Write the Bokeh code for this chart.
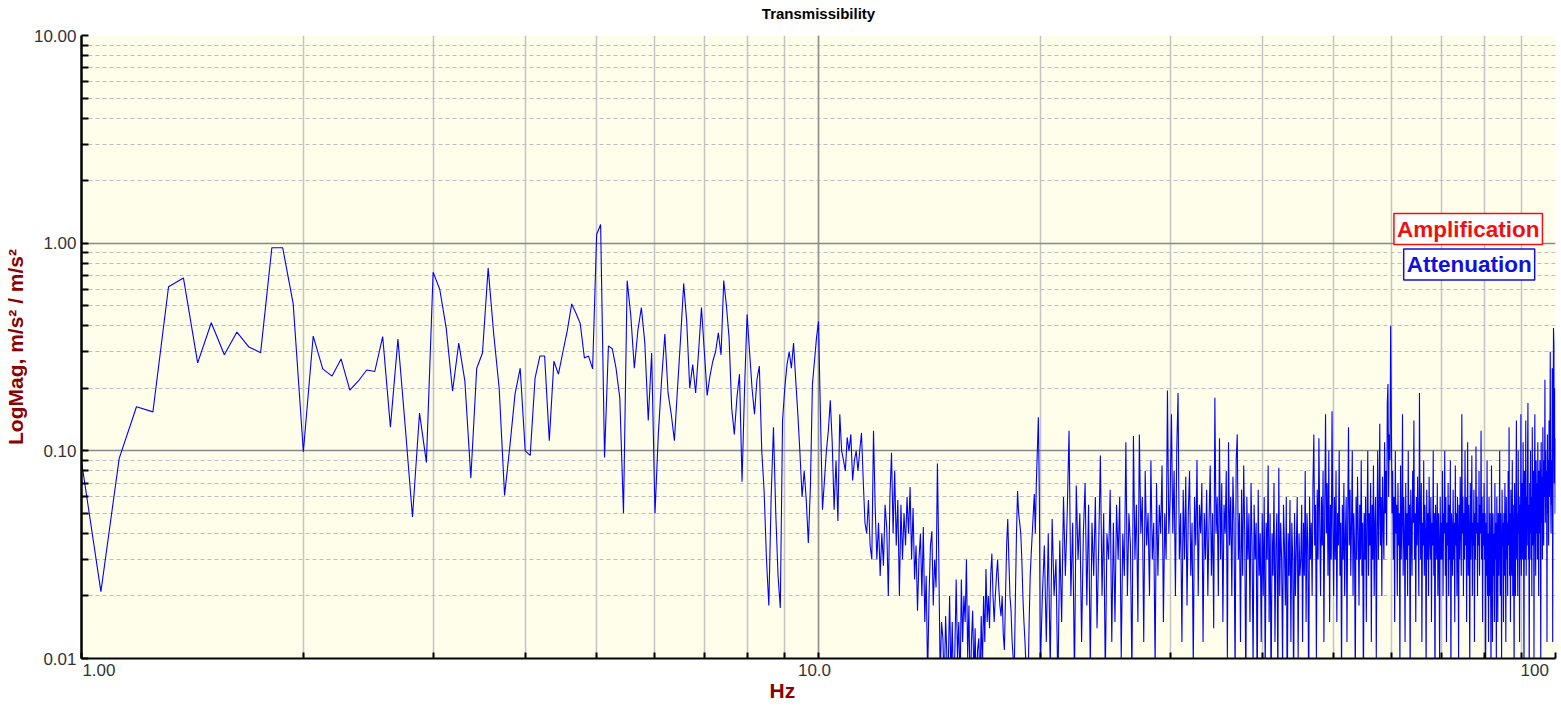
import numpy as np
from bokeh.plotting import figure
from bokeh.models import (FixedTicker, CustomJSTickFormatter, Label, Range1d,
                          ColumnDataSource, Span, Title)
from bokeh.embed import file_html
from bokeh.resources import INLINE

# ---------------- data ----------------
# 1.0 .. 4.9375 Hz, step 0.0625 Hz
mag_1_5hz = [
    0.089, 0.021, 0.092, 0.163, 0.154, 0.617, 0.68, 0.265, 0.414, 0.29,
    0.373, 0.316, 0.297, 0.95, 0.95, 0.51, 0.099, 0.357, 0.248, 0.229,
    0.277, 0.196, 0.217, 0.245, 0.241, 0.355, 0.13, 0.345, 0.13, 0.048,
    0.152, 0.088, 0.725, 0.6, 0.39, 0.194, 0.33, 0.217, 0.074, 0.25,
    0.296, 0.76, 0.365, 0.2, 0.061, 0.105, 0.188, 0.25, 0.1, 0.095,
    0.224, 0.286, 0.286, 0.112, 0.27, 0.234, 0.3, 0.38, 0.51, 0.46,
    0.41, 0.28, 0.286, 0.248,
]
# 5.0 .. 10.0 Hz, step 0.0625 Hz
mag_5_10hz = [
    1.1, 1.23, 0.093, 0.32, 0.31, 0.25, 0.18, 0.05, 0.66, 0.45,
    0.25, 0.38, 0.49, 0.33, 0.14, 0.296, 0.05, 0.12, 0.22, 0.365,
    0.19, 0.15, 0.112, 0.2, 0.35, 0.64, 0.42, 0.2, 0.26, 0.19,
    0.3, 0.49, 0.3, 0.185, 0.23, 0.27, 0.3, 0.37, 0.29, 0.66,
    0.5, 0.35, 0.16, 0.12, 0.18, 0.234, 0.071, 0.2, 0.455, 0.3,
    0.2, 0.15, 0.22, 0.256, 0.1, 0.064, 0.03, 0.018, 0.06, 0.13,
    0.05, 0.025, 0.0175, 0.14, 0.2, 0.26, 0.3, 0.25, 0.33, 0.22,
    0.15, 0.097, 0.06, 0.08, 0.058, 0.036, 0.067, 0.21, 0.27, 0.35,
    0.42,
]
# 10.0625 .. 20.0 Hz, step 0.0625 Hz
mag_10_20hz = [
    0.145, 0.052, 0.072, 0.1, 0.125, 0.175, 0.11, 0.052, 0.09, 0.046,
    0.15, 0.1, 0.09, 0.08, 0.116, 0.1, 0.12, 0.072, 0.09, 0.1,
    0.08, 0.1, 0.122, 0.072, 0.045, 0.04, 0.058, 0.035, 0.03, 0.125,
    0.053, 0.03, 0.045, 0.025, 0.04, 0.028, 0.055, 0.043, 0.02, 0.06,
    0.098, 0.04, 0.08, 0.035, 0.058, 0.02, 0.055, 0.03, 0.05, 0.035,
    0.06, 0.04, 0.067, 0.03, 0.053, 0.024, 0.035, 0.017, 0.03, 0.04,
    0.02, 0.043, 0.015, 0.025, 0.008, 0.02, 0.035, 0.041, 0.018, 0.03,
    0.022, 0.087, 0.03, 0.008, 0.015, 0.0125, 0.007, 0.016, 0.01, 0.009,
    0.02, 0.008, 0.015, 0.006, 0.011, 0.024, 0.01, 0.015, 0.007, 0.024,
    0.012, 0.02, 0.015, 0.03, 0.01, 0.018, 0.006, 0.012, 0.017, 0.008,
    0.014, 0.006, 0.011, 0.0125, 0.007, 0.016, 0.009, 0.02, 0.012, 0.027,
    0.015, 0.02, 0.014, 0.025, 0.032, 0.02, 0.015, 0.02, 0.025, 0.03,
    0.022, 0.018, 0.016, 0.02, 0.013, 0.011, 0.02, 0.035, 0.047, 0.03,
    0.02, 0.017, 0.012, 0.01, 0.009, 0.02, 0.04, 0.064, 0.05, 0.045,
    0.04, 0.03, 0.02, 0.015, 0.012, 0.009, 0.008, 0.008, 0.015, 0.025,
    0.032, 0.04, 0.05, 0.062, 0.04, 0.07, 0.1, 0.145, 0.06, 0.009,
]
# 20.125 .. 40.0 Hz, step 0.125 Hz
mag_20_40hz = [
    0.02, 0.035, 0.012, 0.04, 0.009, 0.047, 0.02, 0.03, 0.007, 0.037,
    0.015, 0.06, 0.025, 0.05, 0.125, 0.02, 0.045, 0.008, 0.068, 0.03,
    0.05, 0.012, 0.04, 0.07, 0.018, 0.055, 0.009, 0.045, 0.025, 0.06,
    0.014, 0.035, 0.095, 0.02, 0.05, 0.008, 0.04, 0.03, 0.065, 0.012,
    0.045, 0.015, 0.055, 0.03, 0.06, 0.01, 0.04, 0.025, 0.11, 0.02,
    0.05, 0.035, 0.008, 0.118, 0.03, 0.055, 0.015, 0.12, 0.04, 0.06,
    0.012, 0.08, 0.035, 0.05, 0.02, 0.09, 0.03, 0.045, 0.009, 0.07,
    0.025, 0.055, 0.04, 0.085, 0.015, 0.05, 0.03, 0.195, 0.04, 0.06,
    0.15, 0.04, 0.08, 0.02, 0.1, 0.19, 0.03, 0.05, 0.012, 0.065,
    0.03, 0.075, 0.018, 0.05, 0.08, 0.025, 0.045, 0.009, 0.06, 0.035,
    0.09, 0.02, 0.055, 0.04, 0.07, 0.012, 0.05, 0.03, 0.065, 0.02,
    0.045, 0.085, 0.025, 0.05, 0.014, 0.18, 0.04, 0.06, 0.02, 0.115,
    0.03, 0.07, 0.015, 0.055, 0.04, 0.08, 0.01, 0.11, 0.035, 0.06,
    0.02, 0.075, 0.045, 0.008, 0.09, 0.12, 0.03, 0.05, 0.012, 0.065,
    0.025, 0.085, 0.04, 0.007, 0.06, 0.03, 0.05, 0.015, 0.07, 0.035,
    0.009, 0.055, 0.03, 0.045, 0.006, 0.065, 0.025, 0.04, 0.012, 0.05,
]
# 40.125 .. 60.0 Hz, step 0.125 Hz
mag_40_60hz = [
    0.02, 0.06, 0.008, 0.045, 0.03, 0.085, 0.015, 0.05, 0.006, 0.04,
    0.025, 0.07, 0.012, 0.035, 0.05, 0.007, 0.083, 0.02, 0.045, 0.03,
    0.009, 0.055, 0.035, 0.018, 0.06, 0.005, 0.04, 0.025, 0.058, 0.012,
    0.045, 0.03, 0.007, 0.05, 0.02, 0.035, 0.06, 0.01, 0.04, 0.025,
    0.03, 0.055, 0.012, 0.045, 0.025, 0.08, 0.015, 0.05, 0.035, 0.006,
    0.06, 0.03, 0.045, 0.02, 0.07, 0.12, 0.035, 0.055, 0.01, 0.065,
    0.03, 0.115, 0.045, 0.02, 0.06, 0.035, 0.08, 0.012, 0.05, 0.15,
    0.04, 0.07, 0.025, 0.1, 0.015, 0.055, 0.03, 0.155, 0.045, 0.02,
    0.06, 0.03, 0.08, 0.015, 0.05, 0.035, 0.1, 0.025, 0.045, 0.008,
    0.055, 0.03, 0.07, 0.02, 0.04, 0.06, 0.012, 0.05, 0.13, 0.035,
    0.065, 0.025, 0.045, 0.1, 0.02, 0.05, 0.035, 0.007, 0.06, 0.03,
    0.075, 0.04, 0.018, 0.055, 0.03, 0.09, 0.025, 0.045, 0.006, 0.05,
    0.03, 0.06, 0.015, 0.045, 0.1, 0.025, 0.05, 0.035, 0.07, 0.012,
    0.055, 0.03, 0.085, 0.02, 0.045, 0.06, 0.01, 0.04, 0.1, 0.03,
    0.05, 0.135, 0.035, 0.06, 0.02, 0.075, 0.045, 0.03, 0.11, 0.05,
    0.08, 0.035, 0.17, 0.21, 0.06, 0.12, 0.09, 0.4, 0.15, 0.05,
]
# 60.125 .. 80.0 Hz, step 0.125 Hz
mag_60_80hz = [
    0.08, 0.03, 0.06, 0.015, 0.1, 0.04, 0.055, 0.02, 0.07, 0.035,
    0.05, 0.009, 0.085, 0.03, 0.045, 0.15, 0.025, 0.06, 0.04, 0.012,
    0.07, 0.03, 0.05, 0.02, 0.1, 0.035, 0.055, 0.007, 0.065, 0.04,
    0.025, 0.08, 0.045, 0.14, 0.03, 0.05, 0.015, 0.06, 0.035, 0.075,
    0.04, 0.02, 0.19, 0.05, 0.03, 0.07, 0.012, 0.045, 0.035, 0.09,
    0.025, 0.055, 0.04, 0.008, 0.065, 0.03, 0.05, 0.02, 0.075, 0.04,
    0.03, 0.06, 0.015, 0.045, 0.035, 0.1, 0.025, 0.05, 0.006, 0.055,
    0.04, 0.03, 0.07, 0.02, 0.05, 0.035, 0.009, 0.06, 0.03, 0.045,
    0.03, 0.08, 0.02, 0.05, 0.04, 0.1, 0.025, 0.06, 0.012, 0.045,
    0.035, 0.07, 0.02, 0.055, 0.03, 0.09, 0.007, 0.05, 0.04, 0.025,
    0.065, 0.03, 0.045, 0.015, 0.085, 0.035, 0.05, 0.02, 0.06, 0.04,
    0.01, 0.055, 0.03, 0.075, 0.045, 0.025, 0.15, 0.04, 0.06, 0.02,
    0.05, 0.03, 0.1, 0.035, 0.06, 0.015, 0.045, 0.11, 0.025, 0.055,
    0.04, 0.008, 0.07, 0.03, 0.05, 0.095, 0.02, 0.045, 0.035, 0.065,
    0.012, 0.05, 0.03, 0.105, 0.04, 0.06, 0.02, 0.045, 0.035, 0.08,
    0.025, 0.055, 0.04, 0.125, 0.03, 0.06, 0.015, 0.05, 0.035, 0.07,
]
# 80.125 .. 100.0 Hz, step 0.125 Hz
mag_80_100hz = [
    0.03, 0.05, 0.006, 0.045, 0.025, 0.09, 0.02, 0.04, 0.012, 0.06,
    0.02, 0.05, 0.03, 0.008, 0.085, 0.035, 0.012, 0.05, 0.025, 0.04,
    0.015, 0.07, 0.03, 0.045, 0.009, 0.06, 0.035, 0.015, 0.05, 0.025,
    0.04, 0.1, 0.02, 0.05, 0.03, 0.01, 0.065, 0.035, 0.045, 0.015,
    0.05, 0.025, 0.07, 0.035, 0.012, 0.06, 0.03, 0.045, 0.02, 0.08,
    0.035, 0.13, 0.025, 0.05, 0.015, 0.065, 0.04, 0.025, 0.09, 0.02,
    0.055, 0.035, 0.008, 0.07, 0.04, 0.02, 0.06, 0.14, 0.03, 0.05,
    0.02, 0.1, 0.04, 0.06, 0.012, 0.055, 0.03, 0.15, 0.025, 0.05,
    0.07, 0.03, 0.11, 0.04, 0.008, 0.08, 0.045, 0.03, 0.14, 0.025,
    0.06, 0.035, 0.09, 0.17, 0.03, 0.055, 0.007, 0.07, 0.04, 0.1,
    0.03, 0.06, 0.02, 0.13, 0.045, 0.035, 0.08, 0.01, 0.06, 0.15,
    0.045, 0.025, 0.09, 0.04, 0.07, 0.03, 0.11, 0.05, 0.02, 0.08,
    0.04, 0.09, 0.055, 0.008, 0.11, 0.045, 0.075, 0.03, 0.13, 0.055,
    0.035, 0.09, 0.06, 0.22, 0.045, 0.1, 0.06, 0.08, 0.012, 0.12,
    0.05, 0.09, 0.035, 0.14, 0.06, 0.1, 0.3, 0.06, 0.04, 0.09,
    0.055, 0.25, 0.012, 0.1, 0.39, 0.33, 0.07, 0.2, 0.05, 0.115,
]

x_tick_labels = ["1.00", "10.0", "100"]
y_tick_values = [0.01, 0.1, 1, 10]

title_text = "Transmissibility"
x_label = "Hz"
y_label = "LogMag, m/s\u00b2 / m/s\u00b2"

# ---------------- build arrays ----------------
lo = mag_1_5hz + mag_5_10hz + mag_10_20hz
hi = mag_20_40hz + mag_40_60hz + mag_60_80hz + mag_80_100hz
f_lo = 1.0 + 0.0625 * np.arange(len(lo))
f_hi = 20.0 + 0.125 * np.arange(1, len(hi) + 1)
freq = np.concatenate([f_lo, f_hi])
mag = np.array(lo + hi)
src = ColumnDataSource(dict(f=freq, m=mag))

FONT = "Liberation Sans"
DARKRED = "#8b0000"

p = figure(
    width=1561, height=707,
    x_axis_type="log", y_axis_type="log",
    x_range=Range1d(1, 100), y_range=Range1d(0.01, 10),
    output_backend="svg", toolbar_location=None,
    min_border_left=79, min_border_right=6, min_border_top=34, min_border_bottom=49,
    background_fill_color="#fefeea", border_fill_color="white",
    outline_line_color=None,
)

p.title.text = title_text
p.title.align = "center"
p.title.vertical_align = "top"
p.title.text_font = FONT
p.title.text_font_size = "15px"
p.title.text_font_style = "bold"
p.title.text_color = "black"
p.title.standoff = 8
# small empty gap between the title and the plot frame
p.add_layout(Title(text=" ", text_font_size="1px", standoff=5), "above")

# decade sub-divisions (tick marks and grid lines)
x_marks = [m * 10 ** e for e in range(0, 2) for m in range(1, 10)] + [100]
y_minor = [m * 10.0 ** e for e in range(-2, 1) for m in range(2, 10)]

# x labels sit edge-aligned inside the frame like in the original, so the
# label anchors are offset from the decade lines (1, 10, 100)
x_label_anchor = [1.056, 9.875, 93.7]
p.xaxis.ticker = FixedTicker(ticks=x_label_anchor, minor_ticks=x_marks)
p.xaxis.formatter = CustomJSTickFormatter(
    args=dict(labels=x_tick_labels), code="return labels[index];")
p.xaxis.major_label_text_font = FONT
p.xaxis.major_label_text_font_size = "17px"
p.xaxis.major_label_text_color = "#333333"
p.xaxis.major_label_standoff = 5
p.xaxis.axis_line_width = 2
p.xaxis.axis_line_color = "black"
p.xaxis.major_tick_in = 0
p.xaxis.major_tick_out = 0
p.xaxis.minor_tick_in = 6
p.xaxis.minor_tick_out = 0
p.xaxis.minor_tick_line_width = 2

# x axis title: centred on the whole chart width as in the original
p.add_layout(Title(text=x_label, align="left", offset=688, vertical_align="top", standoff=0,
                   text_font=FONT, text_font_size="21px", text_font_style="bold",
                   text_color=DARKRED), "below")

p.yaxis.ticker = FixedTicker(ticks=y_tick_values, minor_ticks=y_minor)
p.yaxis.formatter = CustomJSTickFormatter(code="return tick.toFixed(2);")
p.yaxis.major_label_text_font = FONT
p.yaxis.major_label_text_font_size = "17px"
p.yaxis.major_label_text_color = "#333333"
p.yaxis.major_label_standoff = 5
p.yaxis.axis_line_width = 2.5
p.yaxis.axis_line_color = "black"
p.yaxis.major_tick_in = 7
p.yaxis.major_tick_out = 0
p.yaxis.minor_tick_in = 7
p.yaxis.minor_tick_out = 0
p.yaxis.major_tick_line_width = 2
p.yaxis.minor_tick_line_width = 2
p.yaxis.axis_label = y_label
p.yaxis.axis_label_text_font = FONT
p.yaxis.axis_label_text_font_size = "21px"
p.yaxis.axis_label_text_font_style = "bold"
p.yaxis.axis_label_text_color = DARKRED
p.yaxis.axis_label_standoff = 4

# grids
p.xgrid.grid_line_color = None
p.xgrid.minor_grid_line_color = "#c4c4c4"
p.xgrid.minor_grid_line_width = 1.5
p.add_layout(Span(location=10, dimension="height", line_color="#909090",
                  line_width=1.5, level="underlay"))
p.ygrid.grid_line_color = "#888888"
p.ygrid.grid_line_width = 1.5
p.ygrid.minor_grid_line_color = "#bdbdbd"
p.ygrid.minor_grid_line_width = 1
p.ygrid.minor_grid_line_dash = "4 3"

p.line("f", "m", source=src, line_color="#0000ff", line_width=1.1)

# Amplification / Attenuation boxes
p.add_layout(Label(x=96.0, y=1.17, text="Amplification", text_align="right", text_baseline="middle",
                   text_font=FONT, text_font_size="22.5px", text_font_style="bold", text_color="#f01010",
                   background_fill_color="white", border_line_color="#f01010", border_line_width=1.5,
                   padding=3))
p.add_layout(Label(x=93.7, y=0.79, text="Attenuation", text_align="right", text_baseline="middle",
                   text_font=FONT, text_font_size="22.5px", text_font_style="bold", text_color="#1010e0",
                   background_fill_color="white", border_line_color="#1010e0", border_line_width=1.5,
                   padding=3))

open("out.html", "w").write(file_html(p, INLINE))
